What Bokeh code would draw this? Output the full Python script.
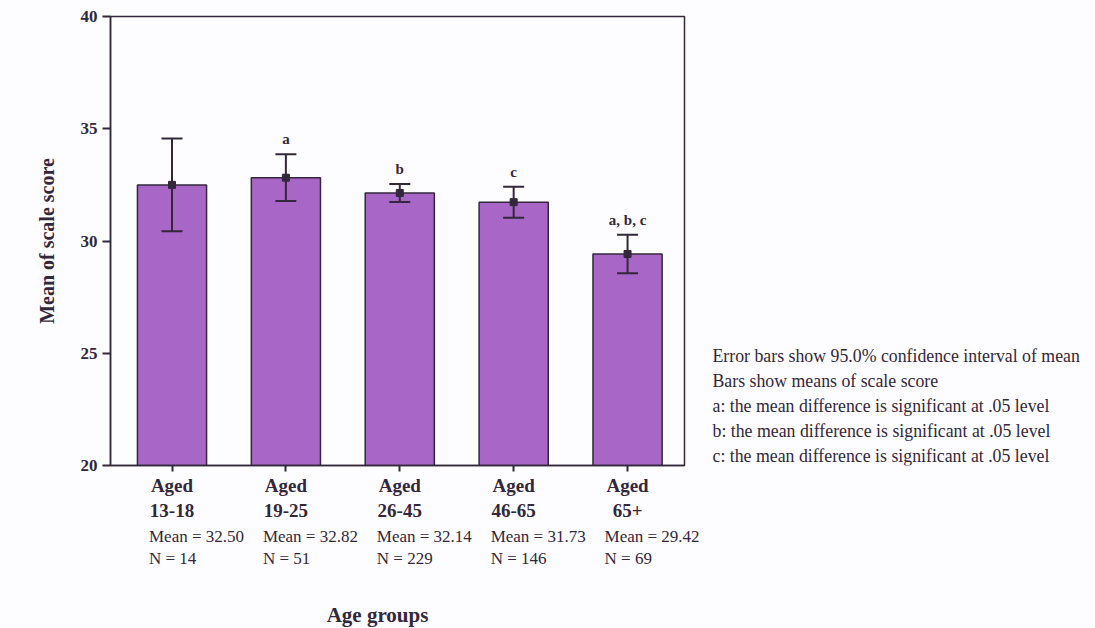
from bokeh.plotting import figure
from bokeh.layouts import row, column
from bokeh.models import (Range1d, FixedTicker, ColumnDataSource, Whisker, TeeHead)
from bokeh.core.properties import value
from bokeh.embed import file_html
from bokeh.resources import INLINE

# ---- data ----
groups = ["13-18", "19-25", "26-45", "46-65", "65+"]
means = [32.50, 32.82, 32.14, 31.73, 29.42]
ns = [14, 51, 229, 146, 69]
ci_low = [30.43, 31.78, 31.74, 31.04, 28.56]
ci_high = [34.57, 33.86, 32.54, 32.42, 30.28]
sig = ["", "a", "b", "c", "a, b, c"]
y_ticks = [20, 25, 30, 35, 40]
notes = [
    "Error bars show 95.0% confidence interval of mean",
    "Bars show means of scale score",
    "a: the mean difference is significant at .05 level",
    "b: the mean difference is significant at .05 level",
    "c: the mean difference is significant at .05 level",
]

FONT = "Liberation Serif"
DARK = "#33283b"
BAR = "#a866c6"
BG = "#fdfcfe"

W, H = 1095, 628
FL, FR, FT, FB = 110, 684, 16, 465   # frame edges of the chart (pixels)
X0, X1 = -0.04, 5.0                   # x range (slight padding on the left)

xs = [i + 0.5 for i in range(len(groups))]
src = ColumnDataSource(dict(x=xs, mean=means, lo=ci_low, hi=ci_high, sig=sig,
                            mtxt=["Mean = %.2f" % m for m in means],
                            ntxt=["N = %d" % n for n in ns]))

# ---------------- main chart ----------------
W1, H1 = 700, 528
p = figure(width=W1, height=H1, output_backend="svg", toolbar_location=None,
           x_range=Range1d(X0, X1), y_range=Range1d(20, 40),
           min_border_left=FL, min_border_right=W1 - FR,
           min_border_top=FT, min_border_bottom=H1 - FB)
p.background_fill_color = BG
p.border_fill_color = BG
p.outline_line_color = DARK
p.outline_line_width = 1.5
p.grid.visible = False

p.vbar(x="x", top="mean", bottom=20, width=0.607, source=src,
       fill_color=BAR, line_color=DARK, line_width=1.5)

w = Whisker(base="x", upper="hi", lower="lo", source=src, dimension="height",
            line_color=DARK, line_width=2, level="overlay",
            upper_head=TeeHead(size=21, line_color=DARK, line_width=2),
            lower_head=TeeHead(size=21, line_color=DARK, line_width=2))
p.add_layout(w)
p.scatter(x="x", y="mean", source=src, marker="square", size=7,
          fill_color=DARK, line_color=DARK, level="overlay")

p.text(x="x", y="hi", text="sig", source=src, text_align="center",
       text_baseline="alphabetic", y_offset=-15,
       text_font=value(FONT), text_font_style="bold", text_font_size="15px",
       text_color=DARK)

ya = p.yaxis[0]
ya.ticker = FixedTicker(ticks=y_ticks)
ya.minor_tick_line_color = None
ya.major_tick_out = 8
ya.major_tick_in = 0
ya.major_tick_line_color = DARK
ya.major_tick_line_width = 2
ya.axis_line_color = DARK
ya.axis_line_width = 1.5
ya.major_label_text_font = FONT
ya.major_label_text_font_style = "bold"
ya.major_label_text_font_size = "17px"
ya.major_label_text_color = DARK
ya.major_label_standoff = 5
ya.axis_label = "Mean of scale score"
ya.axis_label_text_font = FONT
ya.axis_label_text_font_style = "bold"
ya.axis_label_text_font_size = "20px"
ya.axis_label_text_color = DARK
ya.axis_label_standoff = 20

xa = p.xaxis[0]
xa.ticker = FixedTicker(ticks=xs)
xa.major_label_overrides = {x: "Aged\n" + g for x, g in zip(xs, groups)}
xa.minor_tick_line_color = None
xa.major_tick_out = 6
xa.major_tick_in = 0
xa.major_tick_line_color = DARK
xa.major_tick_line_width = 2
xa.axis_line_color = DARK
xa.axis_line_width = 1.5
xa.major_label_text_font = FONT
xa.major_label_text_font_style = "bold"
xa.major_label_text_font_size = "19px"
xa.major_label_text_color = DARK
xa.major_label_standoff = 3

# ---------------- notes on the right (frame aligns with the chart frame) ----------------
W3 = W - W1
pn = figure(width=W3, height=H1, output_backend="svg", toolbar_location=None,
            x_range=Range1d(W1, W), y_range=Range1d(FB, FT),
            x_axis_type=None, y_axis_type=None,
            min_border_left=0, min_border_right=0,
            min_border_top=FT, min_border_bottom=H1 - FB)
pn.background_fill_color = BG
pn.border_fill_color = BG
pn.outline_line_color = None
pn.grid.visible = False
pn.text(x=[712] * len(notes), y=[355 + 25 * k for k in range(len(notes))], text=notes,
        text_align="left", text_baseline="middle",
        text_font=value(FONT), text_font_size="17.8px", text_color=DARK)

# ---------------- Mean / N rows and x title (full width strip) ----------------
H2 = H - H1
px_per_unit = (FR - FL) / (X1 - X0)
pb = figure(width=W, height=H2, output_backend="svg", toolbar_location=None,
            x_range=Range1d(X0 - FL / px_per_unit, X0 + (W - FL) / px_per_unit),
            y_range=Range1d(H, H1),
            x_axis_type=None, y_axis_type=None,
            min_border_left=0, min_border_right=0,
            min_border_top=0, min_border_bottom=0)
pb.background_fill_color = BG
pb.border_fill_color = BG
pb.outline_line_color = None
pb.grid.visible = False
pb.text(x="x", y=536, text="mtxt", source=src, x_offset=-23,
        text_align="left", text_baseline="middle",
        text_font=value(FONT), text_font_size="17px", text_color=DARK)
pb.text(x="x", y=558, text="ntxt", source=src, x_offset=-23,
        text_align="left", text_baseline="middle",
        text_font=value(FONT), text_font_size="17px", text_color=DARK)
pb.text(x=[2.0], y=[614], text=["Age groups"], x_offset=(377 - FL) - (2.0 - X0) * px_per_unit,
        text_align="center", text_baseline="middle",
        text_font=value(FONT), text_font_style="bold", text_font_size="21px",
        text_color=DARK)

layout = column(row(p, pn, spacing=0), pb, spacing=0)
open("out.html", "w").write(file_html(layout, INLINE))
